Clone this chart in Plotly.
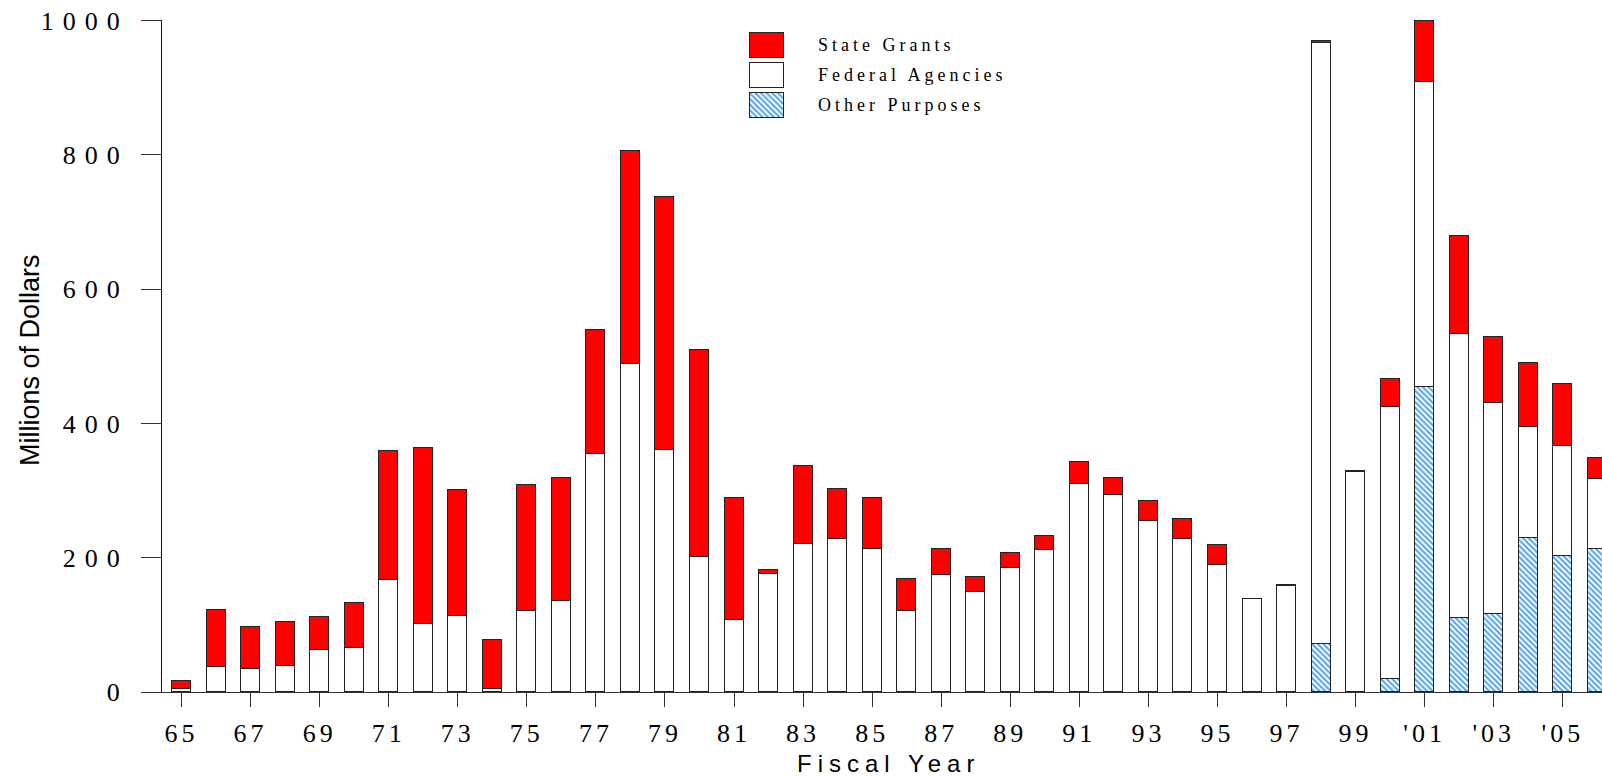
import plotly.graph_objects as go

# ---------------- data ----------------
years = list(range(1965, 2007))

state_grants = [11, 85, 62, 66, 49, 67, 192, 262, 188, 72, 188, 184, 184, 317, 377, 308,
                182, 5, 117, 75, 76, 48, 38, 22, 23, 22, 33, 26, 29, 29, 30, 1, 2,
                2, 1, 41, 92, 147, 98, 95, 92, 31]
federal_agencies = [5, 37, 35, 38, 63, 65, 167, 101, 113, 5, 121, 135, 355, 489, 361, 201,
                    107, 176, 220, 228, 213, 121, 175, 149, 184, 211, 310, 293, 255, 228, 189, 138, 158,
                    896, 328, 406, 453, 423, 315, 166, 164, 104]
other_purposes = [0] * 33 + [71, 0, 19, 455, 110, 116, 229, 203, 213]

x_tick_vals = list(range(1965, 2006, 2))
x_tick_labels = ["65", "67", "69", "71", "73", "75", "77", "79", "81", "83", "85", "87",
                 "89", "91", "93", "95", "97", "99", "'01", "'03", "'05"]
y_tick_vals = [0, 200, 400, 600, 800, 1000]

legend_names = ["State Grants", "Federal Agencies", "Other Purposes"]

# ---------------- style ----------------
RED = "#ff0000"
EDGE = "#222222"
SERIF = "Liberation Serif, Times New Roman, serif"
SANS = "Liberation Sans, Arial, sans-serif"


def hatch():
    return dict(shape="\\", fgcolor="#4fa3ec", bgcolor="white", size=4, solidity=0.5,
                fillmode="replace")


def spaced(t, px):
    return f'<span style="letter-spacing:{px}px">{t}</span>'


fig = go.Figure()

fig.add_trace(go.Bar(x=years, y=other_purposes, name=legend_names[2], width=0.55,
                     marker=dict(color="white", pattern=hatch(), line=dict(color=EDGE, width=1)),
                     showlegend=False))
fig.add_trace(go.Bar(x=years, y=federal_agencies, name=legend_names[1], width=0.55,
                     marker=dict(color="white", line=dict(color=EDGE, width=1)),
                     showlegend=False))
fig.add_trace(go.Bar(x=years, y=state_grants, name=legend_names[0], width=0.55,
                     marker=dict(color=RED, line=dict(color=EDGE, width=1)),
                     showlegend=False))

# legend swatches drawn as a small inset bar chart (one trace per entry)
swatch_markers = [
    dict(color=RED, line=dict(color=EDGE, width=1)),
    dict(color="white", line=dict(color=EDGE, width=1)),
    dict(color="white", pattern=hatch(), line=dict(color=EDGE, width=1)),
]
for i, (name, mk) in enumerate(zip(legend_names, swatch_markers)):
    fig.add_trace(go.Bar(x=[1], y=[i], base=0, orientation="h", width=0.84,
                         xaxis="x2", yaxis="y2", showlegend=False, hoverinfo="skip",
                         name=name, marker=mk))

W, H = 1602, 777
L_M, R_M, T_M, B_M = 162, 0, 20, 85
pw, ph = W - L_M - R_M, H - T_M - B_M


def px_to_paper_x(px):
    return (px - L_M) / pw


def px_to_paper_y(py):
    return (H - B_M - py) / ph


sw_x0, sw_x1 = 750, 784
pad = 0.1
fig.update_layout(
    width=W, height=H,
    margin=dict(l=L_M, r=R_M, t=T_M, b=B_M, pad=0),
    barmode="stack",
    bargap=0,
    plot_bgcolor="white", paper_bgcolor="white",
    showlegend=False,
    xaxis=dict(range=[1964.435, 2006.135], tickmode="array", tickvals=x_tick_vals,
               ticktext=[spaced(t, 4) for t in x_tick_labels],
               ticks="outside", ticklen=14, tickwidth=1, tickcolor="#333",
               showline=True, linecolor="#333", linewidth=1, showgrid=False, zeroline=False,
               tickfont=dict(family=SERIF, size=26, color="black"), ticklabelstandoff=4),
    yaxis=dict(range=[0, 1001], tickmode="array", tickvals=y_tick_vals,
               ticktext=[spaced(str(v), 9) for v in y_tick_vals],
               ticks="outside", ticklen=20, tickwidth=1, tickcolor="#333",
               showline=True, linecolor="#111", linewidth=1, showgrid=False, zeroline=False,
               tickfont=dict(family=SERIF, size=26, color="black"), ticklabelstandoff=7),
    xaxis2=dict(domain=[px_to_paper_x(sw_x0 - (sw_x1 - sw_x0) * pad),
                        px_to_paper_x(sw_x1 + (sw_x1 - sw_x0) * pad)],
                range=[-pad, 1 + pad], anchor="y2", visible=False, fixedrange=True),
    yaxis2=dict(domain=[px_to_paper_y(117.3 + 5), px_to_paper_y(32.7 - 5)],
                range=[2.42 + 5 / 29.8, -0.42 - 5 / 29.8],
                anchor="x2", visible=False, fixedrange=True),
)

annotations = []
legend_rows_px = [45.0, 75.3, 104.8]
for name, py in zip(legend_names, legend_rows_px):
    annotations.append(dict(text=spaced(name, 4), xref="paper", yref="paper",
                            x=px_to_paper_x(816), y=px_to_paper_y(py),
                            xanchor="left", yanchor="middle", showarrow=False,
                            font=dict(family=SERIF, size=18, color="black")))

annotations.append(dict(text=spaced("Fiscal Year", 6), xref="paper", yref="paper",
                        x=px_to_paper_x(888), y=px_to_paper_y(763),
                        xanchor="center", yanchor="middle", showarrow=False,
                        font=dict(family=SANS, size=24, color="black")))
annotations.append(dict(text="Millions of Dollars", xref="paper", yref="paper",
                        x=px_to_paper_x(30), y=px_to_paper_y(360), textangle=-90,
                        xanchor="center", yanchor="middle", showarrow=False,
                        font=dict(family=SANS, size=27, color="black")))
fig.update_layout(annotations=annotations)

fig.write_html("out.html", config={"displayModeBar": False},
               post_script="document.body.style.margin='0';document.body.style.overflow='hidden';")
